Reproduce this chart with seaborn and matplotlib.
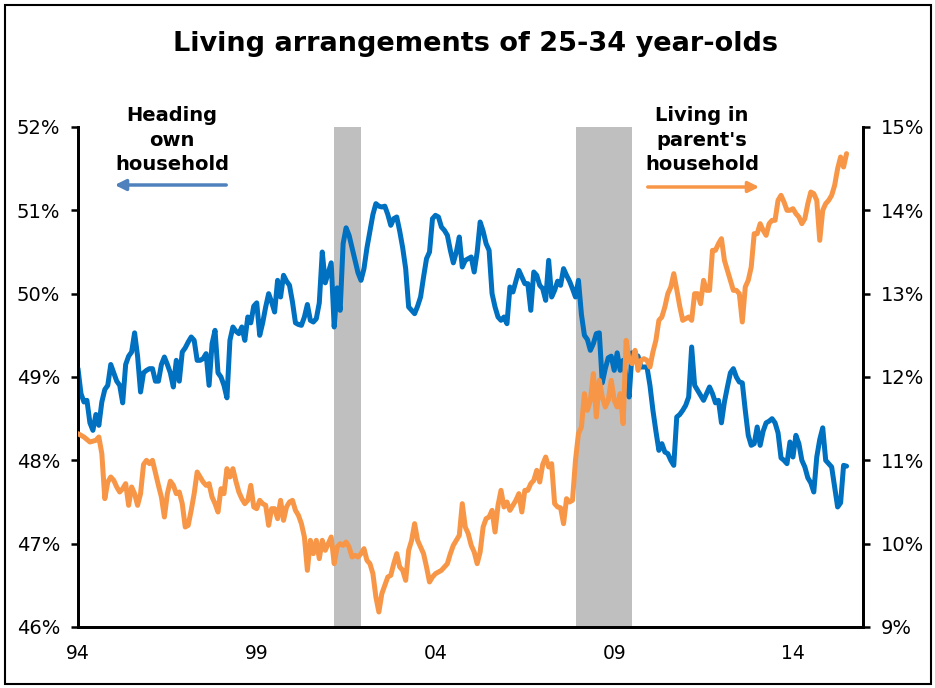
import numpy as np
import pandas as pd
import matplotlib
matplotlib.use("Agg")
import matplotlib.pyplot as plt
import seaborn as sns
from matplotlib.patches import FancyArrowPatch, Rectangle

# ---------------- data (monthly, Jan 1994 - Jul 2015) ----------------
start_year = 1994
heading_own = [
    49.1, 48.8, 48.7, 48.72, 48.45, 48.36, 48.55, 48.42, 48.7, 48.85, 48.9, 49.15,          # 1994
    49.05, 48.95, 48.9, 48.69, 49.15, 49.25, 49.3, 49.53, 49.25, 48.82, 49.05, 49.08,       # 1995
    49.1, 49.1, 48.95, 48.95, 49.15, 49.24, 49.15, 49.05, 48.88, 49.2, 48.95, 49.3,         # 1996
    49.35, 49.42, 49.48, 49.44, 49.2, 49.2, 49.22, 49.28, 48.9, 49.4, 49.56, 49.05,         # 1997
    49.0, 48.9, 48.75, 49.44, 49.6, 49.55, 49.52, 49.6, 49.44, 49.72, 49.65, 49.85,         # 1998
    49.89, 49.5, 49.65, 49.84, 50.0, 49.9, 49.78, 50.16, 49.96, 50.22, 50.15, 50.1,         # 1999
    49.9, 49.65, 49.63, 49.62, 49.72, 49.87, 49.68, 49.66, 49.7, 49.89, 50.5, 50.13,        # 2000
    50.25, 50.37, 49.6, 50.07, 49.8, 50.6, 50.79, 50.7, 50.55, 50.4, 50.25, 50.16,          # 2001
    50.3, 50.55, 50.75, 50.95, 51.08, 51.05, 51.04, 51.05, 50.95, 50.82, 50.9, 50.92,       # 2002
    50.75, 50.55, 50.3, 49.84, 49.8, 49.76, 49.85, 49.96, 50.2, 50.42, 50.5, 50.9,          # 2003
    50.94, 50.92, 50.8, 50.76, 50.7, 50.52, 50.37, 50.5, 50.68, 50.32, 50.4, 50.42,         # 2004
    50.44, 50.26, 50.5, 50.86, 50.75, 50.6, 50.52, 50.0, 49.84, 49.72, 49.68, 49.72,        # 2005
    49.64, 50.08, 50.02, 50.15, 50.28, 50.2, 50.12, 50.12, 49.8, 50.26, 50.22, 50.1,        # 2006
    50.06, 49.92, 50.4, 49.96, 50.04, 50.15, 50.1, 50.3, 50.22, 50.15, 50.06, 49.96,        # 2007
    50.16, 49.75, 49.5, 49.45, 49.32, 49.4, 49.52, 49.53, 48.93, 49.1, 49.23, 49.25,        # 2008
    49.08, 49.29, 49.08, 49.2, 49.0, 48.76, 49.29, 49.27, 49.25, 49.12, 49.12, 49.12,       # 2009
    48.9, 48.6, 48.35, 48.12, 48.2, 48.1, 48.08, 48.0, 47.94, 48.52, 48.55, 48.6,           # 2010
    48.66, 48.76, 49.36, 48.9, 48.84, 48.78, 48.72, 48.8, 48.88, 48.8, 48.69, 48.72,        # 2011
    48.45, 48.7, 48.88, 49.05, 49.1, 49.0, 48.94, 48.93, 48.6, 48.3, 48.18, 48.2,           # 2012
    48.4, 48.18, 48.35, 48.45, 48.47, 48.5, 48.45, 48.33, 48.03, 48.0, 47.96, 48.22,        # 2013
    48.04, 48.3, 48.2, 48.0, 47.92, 47.79, 47.73, 47.62, 48.04, 48.25, 48.39, 48.0,         # 2014
    47.96, 47.92, 47.68, 47.44, 47.49, 47.94, 47.93,                                        # 2015
]
parents_home = [
    11.32, 11.3, 11.28, 11.25, 11.22, 11.23, 11.24, 11.28, 11.08, 10.54, 10.74, 10.8,       # 1994
    10.76, 10.68, 10.62, 10.66, 10.72, 10.46, 10.68, 10.6, 10.46, 10.6, 10.95, 11.0,        # 1995
    10.96, 11.0, 10.85, 10.7, 10.56, 10.32, 10.6, 10.75, 10.7, 10.6, 10.62, 10.48,          # 1996
    10.2, 10.22, 10.4, 10.6, 10.86, 10.8, 10.74, 10.7, 10.72, 10.56, 10.48, 10.38,          # 1997
    10.66, 10.6, 10.9, 10.8, 10.9, 10.75, 10.62, 10.54, 10.48, 10.52, 10.7, 10.44,          # 1998
    10.42, 10.52, 10.48, 10.46, 10.22, 10.42, 10.42, 10.3, 10.52, 10.28, 10.44, 10.5,       # 1999
    10.52, 10.4, 10.34, 10.24, 10.08, 9.68, 10.04, 9.88, 10.04, 9.82, 10.04, 9.92,          # 2000
    10.0, 10.08, 9.76, 9.96, 10.0, 9.98, 10.02, 9.96, 9.84, 9.86, 9.84, 9.88,               # 2001
    9.94, 9.8, 9.76, 9.64, 9.36, 9.18, 9.4, 9.5, 9.6, 9.62, 9.76, 9.88,                     # 2002
    9.72, 9.68, 9.56, 9.92, 10.04, 10.24, 10.04, 9.96, 9.88, 9.72, 9.54, 9.6,               # 2003
    9.64, 9.66, 9.68, 9.72, 9.76, 9.88, 9.98, 10.04, 10.1, 10.48, 10.2, 10.12,              # 2004
    9.98, 9.9, 9.76, 9.9, 10.2, 10.3, 10.32, 10.4, 10.14, 10.46, 10.64, 10.44,              # 2005
    10.5, 10.4, 10.46, 10.52, 10.6, 10.38, 10.64, 10.64, 10.72, 10.76, 10.88, 10.74,        # 2006
    10.95, 11.04, 10.92, 10.96, 10.48, 10.44, 10.43, 10.24, 10.54, 10.5, 10.52, 11.0,       # 2007
    11.32, 11.4, 11.8, 11.6, 11.72, 12.04, 11.52, 11.96, 11.76, 11.64, 11.72, 11.96,        # 2008
    11.72, 11.64, 11.8, 11.44, 12.44, 12.2, 12.16, 12.32, 12.08, 12.2, 12.22, 12.2,         # 2009
    12.12, 12.3, 12.44, 12.68, 12.72, 12.84, 13.0, 13.08, 13.24, 13.05, 12.85, 12.68,       # 2010
    12.7, 12.72, 12.68, 13.0, 13.0, 12.88, 13.16, 13.04, 13.04, 13.52, 13.52, 13.6,         # 2011
    13.66, 13.4, 13.28, 13.16, 13.04, 13.04, 13.0, 12.66, 13.08, 13.16, 13.32, 13.72,       # 2012
    13.72, 13.84, 13.76, 13.7, 13.84, 13.88, 13.88, 14.12, 14.18, 14.1, 14.0, 14.0,         # 2013
    14.02, 13.96, 13.92, 13.84, 13.9, 14.08, 14.22, 14.2, 14.12, 13.64, 14.0, 14.08,        # 2014
    14.12, 14.18, 14.3, 14.5, 14.64, 14.52, 14.68,                                          # 2015
]
recessions = [(2001.17, 2001.92), (2007.92, 2009.5)]
xtick_years = [1994, 1999, 2004, 2009, 2014]
xtick_labels = ["94", "99", "04", "09", "14"]
left_ticks = [46, 47, 48, 49, 50, 51, 52]
right_ticks = [9, 10, 11, 12, 13, 14, 15]

n = len(heading_own)
years = start_year + np.arange(n) / 12.0
df = pd.DataFrame({"year": years, "own": heading_own, "parents": parents_home})

# ---------------- figure ----------------
sns.set_theme(style="white")
plt.rcParams["font.family"] = ["DejaVu Sans"]

W, H = 935, 688
fig = plt.figure(figsize=(W / 100, H / 100), dpi=100)
fig.patch.set_facecolor("white")

def fx(px):
    return px / W

def fy(py):
    return 1 - py / H

ax = fig.add_axes([fx(78), fy(627), fx(863) - fx(78), fy(127) - fy(627)])
ax2 = ax.twinx()

blue = "#0070C0"
orange = "#F79646"

for a, b in recessions:
    ax.axvspan(a, b, color="#BFBFBF", lw=0, zorder=0)

sns.lineplot(data=df, x="year", y="own", ax=ax, color=blue, lw=3.6, zorder=3)
sns.lineplot(data=df, x="year", y="parents", ax=ax2, color=orange, lw=3.6, zorder=3)

ax.set_xlim(1994, 2015.96)
ax.set_ylim(46, 52)
ax2.set_ylim(9, 15)

ax.set_xticks(xtick_years)
ax.set_xticklabels(xtick_labels)
ax.set_yticks(left_ticks)
ax.set_yticklabels([f"{v}%" for v in left_ticks])
ax2.set_yticks(right_ticks)
ax2.set_yticklabels([f"{v}%" for v in right_ticks])

for a in (ax, ax2):
    a.set_xlabel("")
    a.set_ylabel("")
    for s in ("left", "right", "bottom"):
        a.spines[s].set_visible(True)
        a.spines[s].set_color("black")
        a.spines[s].set_linewidth(2)
    a.spines["top"].set_visible(False)
    a.tick_params(axis="both", which="major", direction="out", length=5, width=1.8,
                  color="black", labelsize=14, labelcolor="black")
    a.grid(False)

ax.tick_params(axis="x", pad=7, labelsize=13.5)
ax.tick_params(axis="y", pad=8)
ax2.tick_params(axis="y", pad=8)
ax.patch.set_alpha(0)

# title
fig.text(fx(475), fy(44), "Living arrangements of 25-34 year-olds", ha="center", va="center",
         fontsize=19.5, fontweight="bold", color="black")

# annotations
fig.text(fx(172), fy(140), "Heading\nown\nhousehold", ha="center", va="center",
         fontsize=14, fontweight="bold", linespacing=1.38, color="black")
fig.text(fx(702), fy(140), "Living in\nparent's\nhousehold", ha="center", va="center",
         fontsize=14, fontweight="bold", linespacing=1.38, color="black")

arr1 = FancyArrowPatch((fx(229), fy(185)), (fx(112), fy(185)), transform=fig.transFigure,
                       arrowstyle="-|>", mutation_scale=16, color="#4F81BD", lw=2.5)
arr2 = FancyArrowPatch((fx(645), fy(187)), (fx(762), fy(187)), transform=fig.transFigure,
                       arrowstyle="-|>", mutation_scale=16, color=orange, lw=2.5)
fig.add_artist(arr1)
fig.add_artist(arr2)

# outer frame
frame = Rectangle((fx(5), fy(684)), fx(926), fy(5) - fy(684), transform=fig.transFigure,
                  fill=False, edgecolor="black", lw=1.5)
fig.add_artist(frame)

fig.savefig("out.png", dpi=100, facecolor="white")
